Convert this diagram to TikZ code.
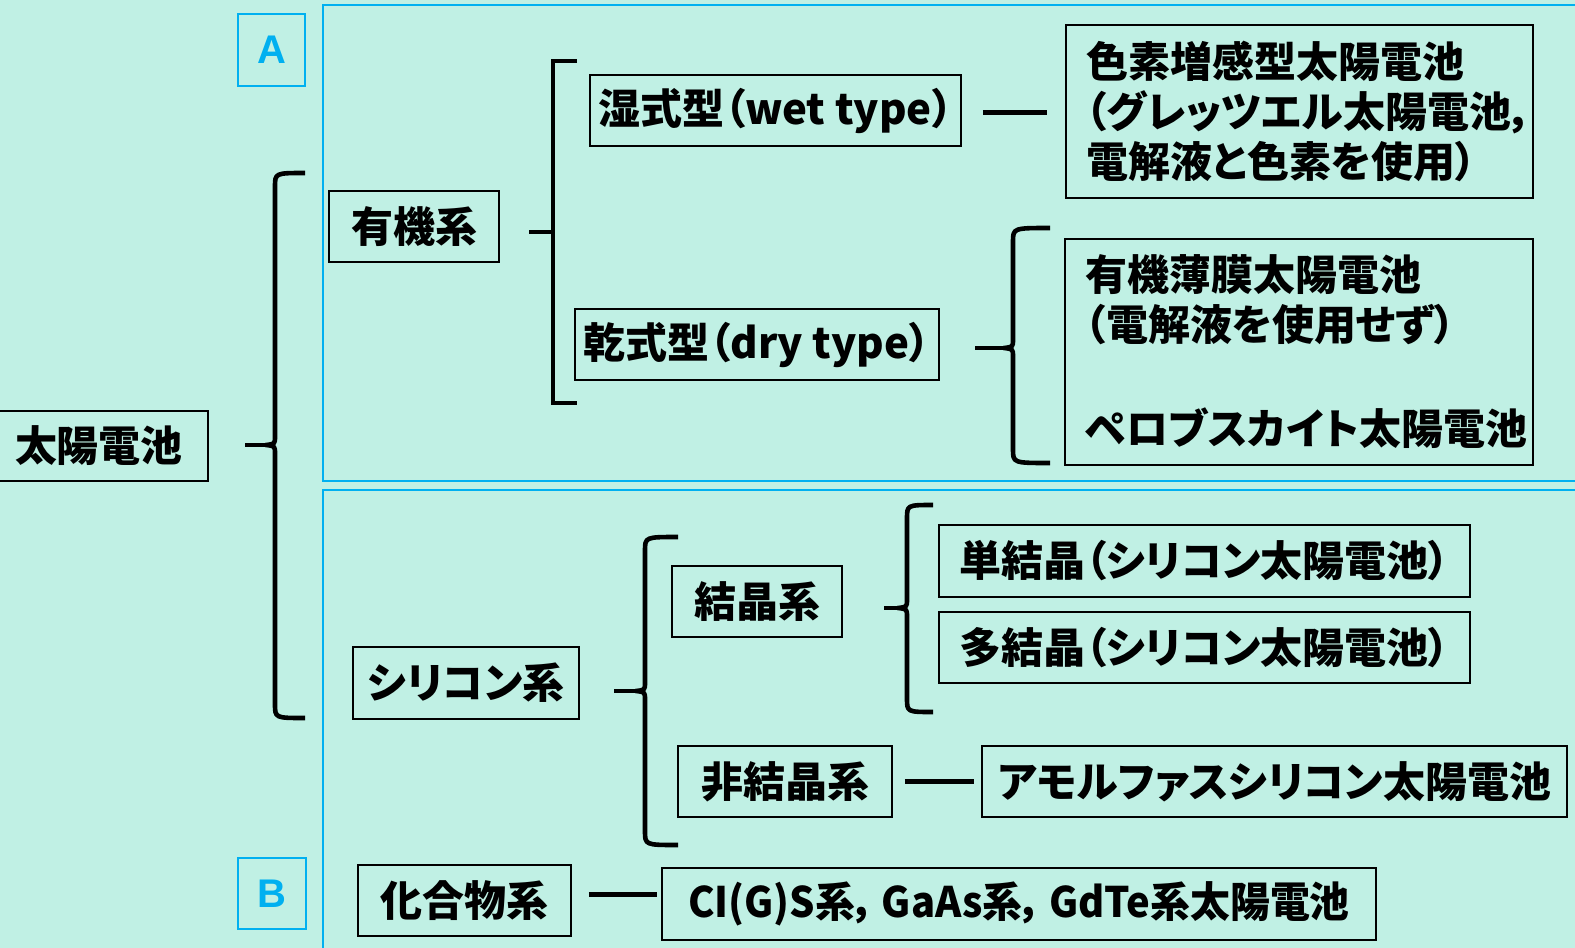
\documentclass[tikz,border=0pt]{standalone}
\usepackage{fontspec}
\setmainfont{Noto Sans CJK JP}[RawFeature=+palt]
\newfontfamily\labfont{Liberation Sans}
\definecolor{bgmint}{RGB}{192,240,228}
\definecolor{panelblue}{RGB}{0,176,240}
\tikzset{
  box/.style={draw=black, line width=1.5pt, inner sep=0pt, align=center,
    font=\bfseries\fontsize{42}{50}\selectfont},
  mlbox/.style={box, align=left, inner xsep=20pt},
  panel/.style={draw=panelblue, line width=2pt},
  lab/.style={draw=panelblue, line width=1.6pt, text=panelblue, inner sep=0pt,
    font=\labfont\bfseries\fontsize{40}{40}\selectfont},
  conn/.style={line width=4.8pt},
  bracelin/.style={line width=4.6pt, line join=round},
}
% \curly{xtip}{xv}{xarm}{ytop}{ymid}{ybot}
\newcommand\curly[6]{%
  \draw[bracelin] (#3,#4) .. controls (#2,#4) .. (#2,#4+14) -- (#2,#5-9)
     .. controls (#2,#5-1) .. (#2-9,#5) .. controls (#2,#5+1) .. (#2,#5+9)
     -- (#2,#6-14) .. controls (#2,#6) .. (#3,#6);
  \draw[bracelin] (#1,#5) -- (#2-8,#5);}
\begin{document}
\begin{tikzpicture}[x=1pt,y=-1pt]
\fill[bgmint] (0,0) rectangle (1575,948);
\useasboundingbox (0,0) rectangle (1575,948);
\clip (0,0) rectangle (1575,948);
% panels
\draw[panel] (1600,5) -- (323,5) -- (323,481) -- (1600,481);
\draw[panel] (1600,490) -- (323,490) -- (323,960);
\node[lab, minimum width=67pt, minimum height=72pt] (A) at (271.5,50) {A};
\node[lab, minimum width=68pt, minimum height=71pt] (B) at (272,893.5) {B};
% nodes
\node[box, minimum width=218pt, minimum height=70pt] (sun) at (99,446) {太陽電池};
\node[box, minimum width=170pt, minimum height=71pt] (yuki) at (414,226.5) {有機系};
\node[box, minimum width=371pt, minimum height=71pt] (wet) at (775.5,110.5) {湿式型（wet type）};
\node[box, minimum width=364pt, minimum height=71pt] (dry) at (757,344.5) {乾式型（dry type）};
\node[mlbox, text width=427pt, minimum height=173pt] (dye) at (1299.5,111.5)
  {色素増感型太陽電池\\（グレッツエル太陽電池，\\電解液と色素を使用）};
\node[mlbox, text width=428pt, minimum height=226pt] (opv) at (1299,352)
  {有機薄膜太陽電池\\（電解液を使用せず）\\[54pt]ペロブスカイト太陽電池};
\node[box, minimum width=226pt, minimum height=72pt] (si) at (466,683) {シリコン系};
\node[box, minimum width=170pt, minimum height=71pt] (cryst) at (757,601.5) {結晶系};
\node[box, minimum width=531pt, minimum height=72pt] (mono) at (1204.5,561) {単結晶（シリコン太陽電池）};
\node[box, minimum width=531pt, minimum height=71pt] (poly) at (1204.5,647.5) {多結晶（シリコン太陽電池）};
\node[box, minimum width=214pt, minimum height=71pt] (amor) at (785,781.5) {非結晶系};
\node[box, minimum width=585pt, minimum height=71pt] (amsi) at (1274.5,781.5) {アモルファスシリコン太陽電池};
\node[box, minimum width=213pt, minimum height=71pt] (comp) at (464.5,900.5) {化合物系};
\node[box, minimum width=714pt, minimum height=72pt] (cigs) at (1019,904) {\scalebox{0.95}[1]{CI(G)S系，\,GaAs系，\,GdTe系太陽電池}};
% braces
\curly{245}{275}{305}{173}{445}{718}
\curly{975}{1013}{1050}{228}{348}{463}
\curly{614}{645}{678}{537}{691}{845}
\curly{884}{907}{933}{505}{608}{712}
\draw[bracelin, line join=miter] (577,61) -- (553,61) -- (553,403) -- (577,403);
\draw[bracelin] (529,232) -- (553,232);
% straight connectors
\draw[conn] ([xshift=21pt,yshift=-2pt]wet.east) -- ([xshift=-18pt,yshift=-2pt]wet.east -| dye.west);
\draw[conn] ([xshift=12pt]amor.east) -- ([xshift=-7pt]amor.east -| amsi.west);
\draw[conn] ([xshift=17pt,yshift=6pt]comp.east) -- ([xshift=-4pt,yshift=6pt]comp.east -| cigs.west);
\end{tikzpicture}
\end{document}
